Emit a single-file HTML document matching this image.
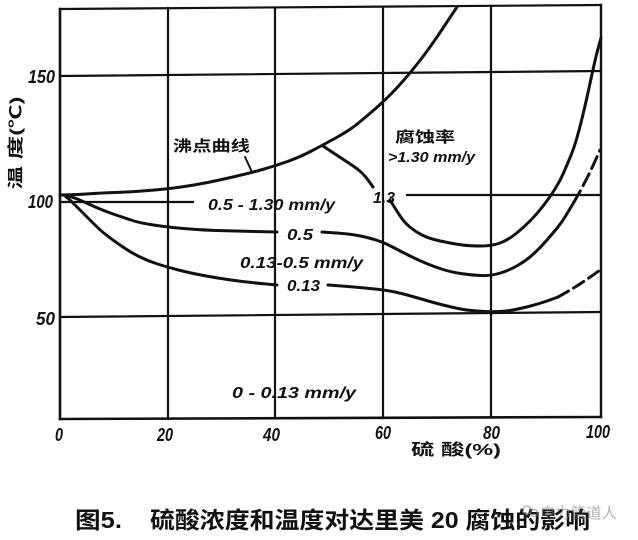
<!DOCTYPE html>
<html>
<head>
<meta charset="utf-8">
<style>
  html,body{margin:0;padding:0;background:#fff;}
  svg{display:block;}
  .t{font-family:"Liberation Sans","Noto Sans CJK SC",sans-serif;fill:#111;}
  .num{font-style:italic;font-weight:bold;font-size:18px;}
  .lab{font-style:italic;font-weight:bold;font-size:16px;}
  .cjk{font-weight:bold;font-size:15px;}
</style>
</head>
<body>
<svg width="638" height="540" viewBox="0 0 638 540" xmlns="http://www.w3.org/2000/svg">
  <rect width="638" height="540" fill="#fff"/>

  <!-- grid / frame -->
  <g stroke="#111" stroke-width="2.2" fill="none" stroke-linecap="square">
    <line x1="60" y1="9" x2="601" y2="5"/>
    <line x1="60" y1="76" x2="601" y2="71"/>
    <line x1="60" y1="202" x2="193" y2="202"/>
    <line x1="407" y1="195" x2="601" y2="195"/>
    <line x1="60" y1="317" x2="601" y2="312"/>
    <line x1="60" y1="419" x2="601" y2="417" stroke-width="2.6"/>
    <line x1="60" y1="9" x2="60" y2="419" stroke-width="2.6"/>
    <line x1="168" y1="8" x2="168" y2="419"/>
    <line x1="275" y1="8" x2="275" y2="418"/>
    <line x1="383" y1="7" x2="383" y2="418"/>
    <line x1="491" y1="6" x2="491" y2="417"/>
    <line x1="601" y1="5" x2="601" y2="417" stroke-width="2.4"/>
  </g>

  <!-- curves -->
  <g stroke="#111" stroke-width="3" fill="none" stroke-linejoin="round" stroke-linecap="round">
    <!-- boiling curve -->
    <path d="M60,195 L70,194.75 Q80,194.5 90,193.75 Q100,193 115,192.5 Q130,192 148.5,190.5 Q167,189 181,187 Q195,185 207.5,182.5 Q220,180 235,176.5 Q250,173 262.5,169.5 Q275,166 287.5,161.5 Q300,157 311.5,151 Q323,145 336.5,137.5 Q350,130 358.5,123 Q367,116 375,109 Q383,102 390,95 Q397,88 403.5,80.5 Q410,73 416,65.5 Q422,58 427.5,50.5 Q433,43 439,34 Q445,25 451,16 L457,7"/>
    <!-- 1.3 curve branch (upper part) -->
    <path d="M323,146 L330.5,151 Q338,156 348,162.5 Q358,169 362,173 Q366,177 369.5,182 L373,187"/>
    <!-- 1.3 curve after label -->
    <path d="M390,200 L394,206.5 Q398,213 401.5,218 Q405,223 410.5,227.5 Q416,232 422,235 Q428,238 434,239.5 Q440,241 447.5,242.5 Q455,244 462.5,245 Q470,246 481,246 Q492,246 500,243 Q508,240 515.5,234 Q523,228 530,221 Q537,214 543.5,205.5 Q550,197 555,189 Q560,181 563.5,173 Q567,165 570.5,156.5 Q574,148 577,137.5 Q580,127 583,114.5 Q586,102 589,88 Q592,74 594.5,63 Q597,52 599,45 L601,38"/>
    <!-- 0.5 curve left -->
    <path d="M64,195 L68,196 Q72,197 76,198.5 Q80,200 87.5,203.5 Q95,207 102.5,210 Q110,213 117.5,215.5 Q125,218 132.5,220.5 Q140,223 153.5,225 Q167,227 183.5,228.5 Q200,230 216.5,230.5 Q233,231 255,231.5 L277,232"/>
    <!-- 0.5 curve right -->
    <path d="M322,232 L336.5,233 Q351,234 360.5,236 Q370,238 377.5,240.5 Q385,243 392.5,247 Q400,251 409,255.5 Q418,260 426.5,263.5 Q435,267 443,269.5 Q451,272 460.5,273.5 Q470,275 480.5,275.5 Q491,276 500.5,273 Q510,270 518.5,265 Q527,260 534,253.5 Q541,247 547,240 Q553,233 557.5,227.5 Q562,222 565,217 Q568,212 571,207 L574,202"/>
    <path d="M574,202 Q588,178 600,150" stroke-dasharray="13 6"/>
    <!-- 0.13 curve left -->
    <path d="M64,195 L67,197.5 Q70,200 74,204 Q78,208 82,212 Q86,216 93,223 Q100,230 105,234 Q110,238 120,245 Q130,252 139,256.5 Q148,261 157.5,264 Q167,267 178.5,270 Q190,273 203.5,275.5 Q217,278 231,280 Q245,282 261,283.5 L277,285"/>
    <!-- 0.13 curve right -->
    <path d="M328,285 L341.5,286 Q355,287 370,288.5 Q385,290 392.5,291.5 Q400,293 409,295.5 Q418,298 426.5,300.5 Q435,303 443,305 Q451,307 458,308.5 Q465,310 471.5,310.5 Q478,311 484.5,311.5 Q491,312 499.5,311.5 Q508,311 515.5,309.5 Q523,308 530.5,306 Q538,304 544,302 Q550,300 554,298.5 L558,297"/>
    <path d="M558,297 Q580,285 600,270" stroke-dasharray="12 6"/>
    <!-- leader line -->
    <line x1="245" y1="157" x2="252" y2="172" stroke-width="2"/>
  </g>

  <!-- tick labels -->
  <g class="t num">
    <text x="28" y="83" textLength="27" lengthAdjust="spacingAndGlyphs">150</text>
    <text x="28" y="208" textLength="25" lengthAdjust="spacingAndGlyphs">100</text>
    <text x="36" y="325" textLength="19" lengthAdjust="spacingAndGlyphs">50</text>
    <text x="55" y="441" textLength="8" lengthAdjust="spacingAndGlyphs">0</text>
    <text x="157" y="441" textLength="16" lengthAdjust="spacingAndGlyphs">20</text>
    <text x="263" y="441" textLength="17" lengthAdjust="spacingAndGlyphs">40</text>
    <text x="375" y="439" textLength="16" lengthAdjust="spacingAndGlyphs">60</text>
    <text x="483" y="439" textLength="17" lengthAdjust="spacingAndGlyphs">80</text>
    <text x="586" y="438" textLength="24" lengthAdjust="spacingAndGlyphs">100</text>
  </g>

  <!-- curve labels -->
  <g class="t lab">
    <text x="208" y="210" textLength="127" lengthAdjust="spacingAndGlyphs">0.5 - 1.30 mm/y</text>
    <text x="373" y="203" textLength="22" lengthAdjust="spacingAndGlyphs">1.3</text>
    <text x="287" y="240" textLength="26" lengthAdjust="spacingAndGlyphs">0.5</text>
    <text x="240" y="268" textLength="123" lengthAdjust="spacingAndGlyphs">0.13-0.5 mm/y</text>
    <text x="287" y="291" textLength="33" lengthAdjust="spacingAndGlyphs">0.13</text>
    <text x="232" y="398" textLength="124" lengthAdjust="spacingAndGlyphs">0 - 0.13 mm/y</text>
    <text x="388" y="162" textLength="87" lengthAdjust="spacingAndGlyphs" style="font-size:15px">&gt;1.30 mm/y</text>
  </g>

  <!-- CJK labels -->
  <g class="t cjk">
    <text x="173" y="151" textLength="77" lengthAdjust="spacingAndGlyphs">沸点曲线</text>
    <text x="395" y="142" textLength="60" lengthAdjust="spacingAndGlyphs">腐蚀率</text>
    <text x="411" y="455" textLength="90" lengthAdjust="spacingAndGlyphs" style="font-size:16px">硫 酸(%)</text>
    <text transform="translate(15,143) rotate(-90)" x="0" y="6" text-anchor="middle" textLength="93" lengthAdjust="spacingAndGlyphs" style="font-size:16px">温 度(℃)</text>
  </g>

  <!-- caption -->
  <g class="t" style="font-weight:bold;font-size:23px;">
    <text x="75" y="528" textLength="47" lengthAdjust="spacingAndGlyphs">图5.</text>
    <text x="150" y="528" textLength="440" lengthAdjust="spacingAndGlyphs">硫酸浓度和温度对达里美 20 腐蚀的影响</text>
  </g>

  <!-- watermark -->
  <g opacity="0.55">
    <circle cx="527" cy="510" r="4" fill="none" stroke="#888" stroke-width="1.5"/>
    <circle cx="534" cy="513" r="3.5" fill="none" stroke="#888" stroke-width="1.5"/>
    <text x="540" y="518" class="t" style="fill:#777;font-size:15px;" textLength="77" lengthAdjust="spacingAndGlyphs">电力管道人</text>
  </g>
</svg>
</body>
</html>
